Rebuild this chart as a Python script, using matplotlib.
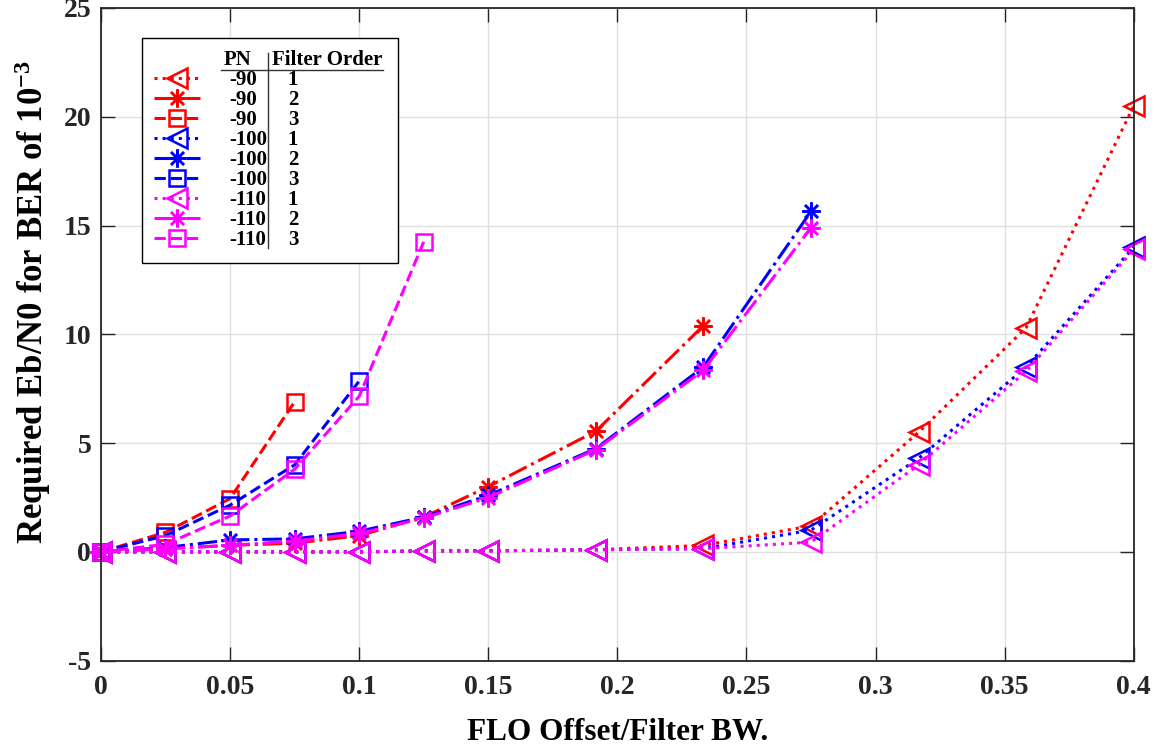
import matplotlib
matplotlib.use("Agg")
import matplotlib.pyplot as plt
from matplotlib.lines import Line2D

plt.rcParams['font.family'] = ['Liberation Serif', 'DejaVu Serif']
plt.rcParams['font.weight'] = 'bold'
plt.rcParams['axes.unicode_minus'] = False
plt.rcParams['mathtext.fontset'] = 'custom'
plt.rcParams['mathtext.rm'] = 'Liberation Serif:bold'
plt.rcParams['mathtext.default'] = 'rm'

# offsets (FLO offset / filter BW)
x_pts = [0, 0.025, 0.05, 0.075, 0.1, 0.125, 0.15, 0.1917, 0.2333, 0.275,
         0.3167, 0.3583, 0.4]

# required Eb/N0, order 1 filter
y_90_1 = [0, 0, 0, 0, 0, 0.05, 0.05, 0.1, 0.3, 1.2, 5.5, 10.3, 20.5]
y_100_1 = [0, 0, 0, 0, 0, 0.05, 0.05, 0.1, 0.15, 1.0, 4.3, 8.5, 14.0]
y_110_1 = [0, 0, 0, 0, 0, 0.05, 0.05, 0.1, 0.15, 0.45, 4.0, 8.3, 13.9]
# order 2
y_90_2 = [0, 0.15, 0.3, 0.4, 0.75, 1.6, 3.0, 5.55, 10.4]
y_100_2 = [0, 0.2, 0.55, 0.6, 0.95, 1.6, 2.6, 4.75, 8.5, 15.65]
y_110_2 = [0, 0.15, 0.3, 0.5, 0.85, 1.55, 2.5, 4.7, 8.35, 14.9]
# order 3
y_90_3 = [0, 0.9, 2.45, 6.9]
y_100_3 = [0, 0.75, 2.15, 4.0, 7.85]
y_110_3 = [0, 0.35, 1.65, 3.8, 7.15, 14.25]

pn_labels = ["-90", "-90", "-90", "-100", "-100", "-100", "-110", "-110", "-110"]
order_labels = ["1", "2", "3", "1", "2", "3", "1", "2", "3"]

series = [
    (y_90_1, 'red', ':', '<'),
    (y_90_2, 'red', '-.', (8, 2, 0)),
    (y_90_3, 'red', '--', 's'),
    (y_100_1, 'blue', ':', '<'),
    (y_100_2, 'blue', '-.', (8, 2, 0)),
    (y_100_3, 'blue', '--', 's'),
    (y_110_1, 'magenta', ':', '<'),
    (y_110_2, 'magenta', '-.', (8, 2, 0)),
    (y_110_3, 'magenta', '--', 's'),
]

fig = plt.figure(figsize=(11.67, 7.52), dpi=100)
ax = fig.add_axes([0.0865, 0.1214, 0.885, 0.868])

handles = [Line2D([], [], linestyle='none')]
for y, col, ls, mk in series:
    if mk == '<':
        ms = 15
    elif mk == 's':
        ms = 12
    else:
        ms = 13
    h, = ax.plot(x_pts[:len(y)], y, color=col, linestyle=ls, linewidth=2.2,
                 marker=mk, markersize=ms, markerfacecolor='none',
                 markeredgewidth=1.8, clip_on=False)
    handles.append(h)

ax.set_xlim(0, 0.4)
ax.set_ylim(-5, 25)
ax.set_xticks([0, 0.05, 0.1, 0.15, 0.2, 0.25, 0.3, 0.35, 0.4])
ax.set_xticklabels(["0", "0.05", "0.1", "0.15", "0.2", "0.25", "0.3", "0.35", "0.4"])
ax.set_yticks([-5, 0, 5, 10, 15, 20, 25])
ax.grid(True, color='#e0e0e0', linewidth=1)
ax.set_axisbelow(True)
ax.tick_params(direction='in', length=10, width=1, labelsize=20,
               top=True, right=True, colors='#262626')
ax.tick_params(axis='x', pad=10)
ax.tick_params(axis='y', pad=7)
for sp in ax.spines.values():
    sp.set_color('#262626')
    sp.set_linewidth(1.3)

ax.set_xlabel("FLO Offset/Filter BW.", fontsize=22.5, fontweight='bold', labelpad=13)
ax.set_ylabel("Required Eb/N0 for BER of $10^{-3}$", fontsize=25,
              fontweight='bold')
ax.yaxis.set_label_coords(-0.046, 0.55)

leg = ax.legend(handles, [" "] + pn_labels, loc='upper left',
                bbox_to_anchor=(0.0397, 0.622, 0.248, 0.332), mode='expand',
                borderaxespad=0, fontsize=15, labelspacing=0.0,
                handlelength=2.2, handletextpad=1.4, borderpad=0.6,
                fancybox=False, framealpha=1, edgecolor='black')
leg.get_frame().set_linewidth(1.0)

# header and filter order column placed relative to legend frame
fig.canvas.draw()
lb = leg.get_window_extent()
texts = leg.get_texts()
to_fig = fig.transFigure.inverted()

def fpt(px, py):
    return to_fig.transform((px, py))

x0 = lb.x0
for t, lab in zip(texts[1:], order_labels):
    bb = t.get_window_extent()
    fx, fy = fpt(x0 + 151, (bb.y0 + bb.y1) / 2)
    fig.text(fx, fy, lab, fontsize=15, fontweight='bold', ha='center', va='center')

hb = texts[0].get_window_extent()
hy = (hb.y0 + hb.y1) / 2
fx, fy = fpt(x0 + 96, hy)
fig.text(fx, fy, "PN", fontsize=15, fontweight='bold', ha='center', va='center')
fx, fy = fpt(x0 + 185, hy)
fig.text(fx, fy, "Filter Order", fontsize=15, fontweight='bold', ha='center', va='center')

ul_y = hy - 10
a = fpt(x0 + 79, ul_y)
b = fpt(x0 + 241, ul_y)
fig.add_artist(Line2D([a[0], b[0]], [a[1], b[1]], color='#333333', linewidth=1,
                      transform=fig.transFigure))
lastb = texts[-1].get_window_extent()
a = fpt(x0 + 126, hy + 7)
b = fpt(x0 + 126, lastb.y0 + 2)
fig.add_artist(Line2D([a[0], b[0]], [a[1], b[1]], color='#333333', linewidth=1,
                      transform=fig.transFigure))

fig.savefig("out.png", dpi=100)
